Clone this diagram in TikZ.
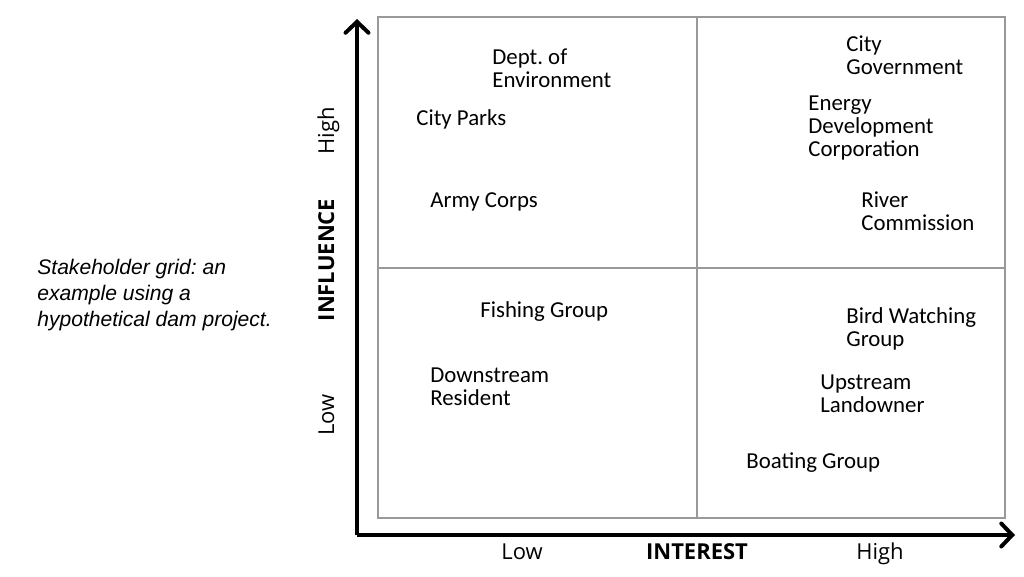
\documentclass[tikz,border=0pt]{standalone}
\usepackage{fontspec}
\setmainfont{Carlito}
\newfontfamily\captionfont{Liberation Sans}
\newfontfamily\axisfont{Open Sans}
\usetikzlibrary{arrows.meta}
\frenchspacing
\tikzset{
  axis/.style={line width=4pt*0.567, -{Straight Barb[length=2.2mm,width=4.6mm,line cap=round]}},
  grid line/.style={gray!80, line width=0.7pt},
  holder/.style={anchor=base west, align=left, font=\fontsize{13}{13}\selectfont, inner sep=0pt},
  axis label/.style={anchor=base, font=\axisfont\fontsize{12.5}{14}\selectfont, inner sep=0pt},
  axis name/.style={axis label, font=\axisfont\fontsize{12.5}{14}\selectfont\bfseries},
}
\begin{document}
\begin{tikzpicture}[x=0.02cm, y=-0.02cm]
            \useasboundingbox (0, 0) rectangle (1024, 576);
            % grid
            \draw[grid line] (378, 17) rectangle (1005, 518);
            \draw[grid line] (697, 17) -- (697, 518);
            \draw[grid line] (378, 268) -- (1005, 268);
            % axes
            \coordinate (origin) at (357, 535);
            \coordinate (ytip) at (357, 19);
            \coordinate (xtip) at (1015, 535);
            \draw[axis] (origin) -- (ytip);
            \draw[axis] (origin) -- (xtip);
            \node[axis label] (xlow) at (522, 559) {Low};
            \node[axis name] (xname) at (697, 559) {INTEREST};
            \node[axis label] (xhigh) at (880, 559) {High};
            \node[axis label, rotate=90] (yhigh) at (334, 131) {High};
            \node[axis name, rotate=90] (yname) at (334, 260) {INFLUENCE};
            \node[axis label, rotate=90] (ylow) at (334, 415) {Low};
            % caption (base is the last line)
            \node[anchor=base west, align=left, inner sep=0pt, font=\captionfont\fontsize{12}{14.7}\selectfont\itshape] (caption) at (37, 326)
              {Stakeholder grid: an\\example using a\\hypothetical dam project.};
            % high influence, low interest
            \node[holder] (dept) at (492, 87) {Dept. of\\Environment};
            \node[holder] (parks) at (416, 125) {City Parks};
            \node[holder] (army) at (430, 207) {Army Corps};
            % high influence, high interest
            \node[holder] (city) at (846, 74) {City\\Government};
            \node[holder] (energy) at (808, 156) {Energy\\Development\\Corporation};
            \node[holder] (river) at (861, 230) {River\\Commission};
            % low influence, low interest
            \node[holder] (fishing) at (480, 317) {Fishing Group};
            \node[holder] (resident) at (430, 405) {Downstream\\Resident};
            % low influence, high interest
            \node[holder] (bird) at (846, 346) {Bird Watching\\Group};
            \node[holder] (land) at (820, 412) {Upstream\\Landowner};
            \node[holder] (boating) at (746, 468) {Boating Group};
\end{tikzpicture}
\end{document}
